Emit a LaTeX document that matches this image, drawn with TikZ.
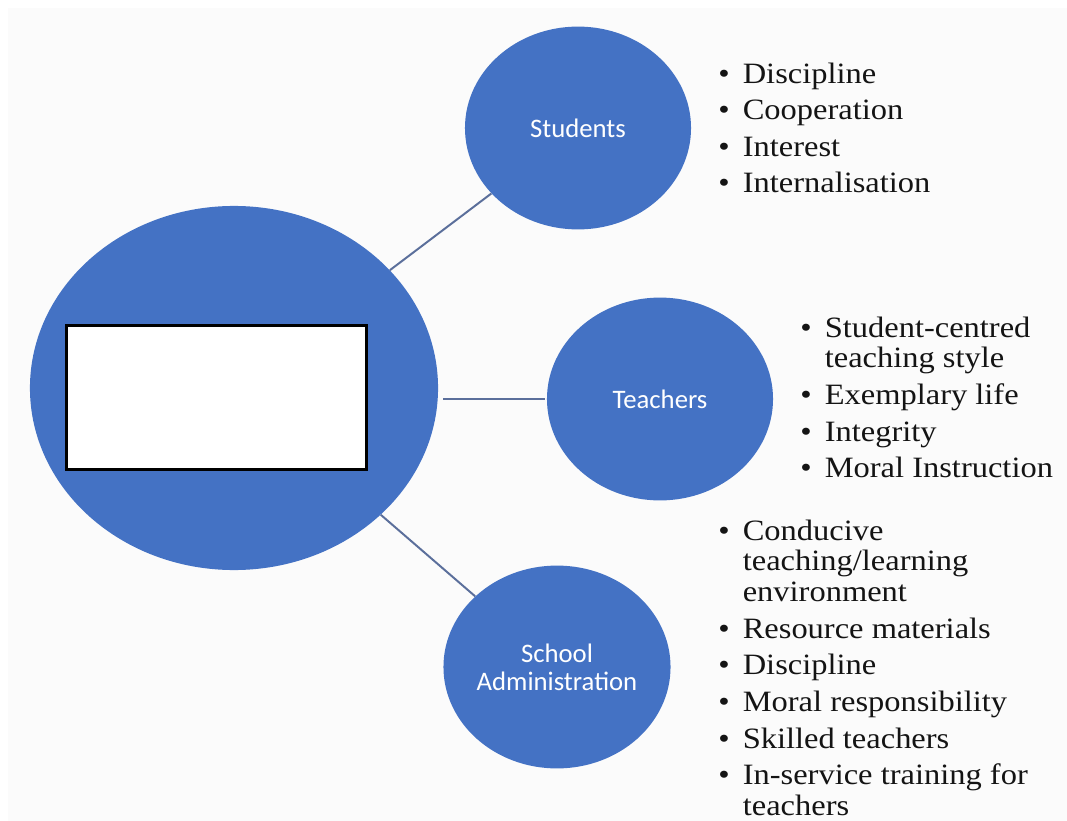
\documentclass[tikz,border=0pt]{standalone}
\usepackage{graphicx}
\usepackage{fontspec}
\setmainfont{Liberation Serif}
\newfontfamily\blobfont{Carlito}
\usetikzlibrary{shapes.geometric,positioning}
\definecolor{blobblue}{HTML}{4472C4}
\definecolor{linkgray}{HTML}{5B6F9B}
\definecolor{listink}{HTML}{141414}
\tikzset{>=stealth}
\tikzset{
  blob/.style={ellipse,fill=blobblue,inner sep=0pt,text=white,align=center,
    font=\blobfont\fontsize{19}{20}\selectfont},
  bigblob/.style={blob,minimum width=10.2cm,minimum height=9.1cm},
  smallblob/.style={blob,minimum width=5.65cm,minimum height=5.07cm},
  blankbox/.style={draw=black,line width=1.5pt,fill=white,inner sep=0pt,
    minimum width=7.5cm,minimum height=3.6cm},
  link/.style={draw=linkgray,line width=1.4pt},
  points/.style={anchor=base west,inner sep=0pt,text=listink,
    font=\fontsize{21}{22}\selectfont}
}
% bullet list, slightly widened
\newcommand{\pointlist}[1]{\scalebox{1.1}[1]{\begin{tabular}[t]{@{}l@{\hspace{8.5pt}}l@{}}#1\end{tabular}}}

\begin{document}
\begin{tikzpicture}[x=0.025cm,y=-0.025cm]

\pgfmathsetmacro{\W}{1067}
\pgfmathsetmacro{\H}{821}
  \useasboundingbox (0,0) rectangle (\W,\H);
  \fill[white] (0,0) rectangle (\W,\H);
  \fill[gray!3] (8,8) rectangle (\W,\H);

  \node[bigblob] (centre) at (234,388) {};
  \node[blankbox] (blank) at (216.5,397.5) {};
  \node[smallblob] (students) at (578,128) {Students};
  \node[smallblob] (teachers) at (660,399) {Teachers};
  \node[smallblob] (admin) at (557,667) {School\\Administration};

  \draw[link] (centre) -- (students);
  \draw[link,shorten <=3.5pt,shorten >=1.5pt] (centre.east |- teachers) -- (teachers);
  \draw[link] (centre) -- (admin);

  \node[points] (studentpts) at (718,83) {\pointlist{
    \textbullet & Discipline\\[4pt]
    \textbullet & Cooperation\\[4pt]
    \textbullet & Interest\\[4pt]
    \textbullet & Internalisation}};
  \node[points] (teacherpts) at (800,337) {\pointlist{
    \textbullet & Student-centred\\
                & teaching style\\[4pt]
    \textbullet & Exemplary life\\[4pt]
    \textbullet & Integrity\\[4pt]
    \textbullet & Moral Instruction}};
  \node[points] (adminpts) at (718,540) {\pointlist{
    \textbullet & Conducive\\
                & teaching/learning\\
                & environment\\[4pt]
    \textbullet & Resource materials\\[4pt]
    \textbullet & Discipline\\[4pt]
    \textbullet & Moral responsibility\\[4pt]
    \textbullet & Skilled teachers\\[4pt]
    \textbullet & In-service training for\\
                & teachers}};

  \end{tikzpicture}
\end{document}
